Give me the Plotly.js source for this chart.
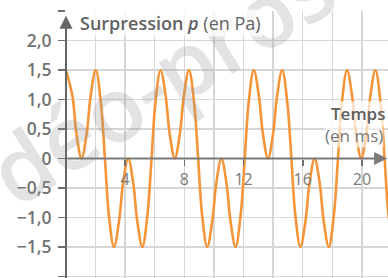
<!DOCTYPE html>
<html>
<head>
<meta charset="utf-8">
<script src="https://cdn.plot.ly/plotly-3.0.1.min.js"></script>
<style>html,body{margin:0;padding:0;background:#fff;}#chart{width:388px;height:278px;}</style>
</head>
<body>
<div id="chart"></div>
<script>
// Time (ms) and overpressure p (Pa)
var timeMs = [0, 0.44, 0.70, 1.05, 1.40, 1.66, 2.01, 2.36, 2.63, 2.89, 3.24, 3.59, 3.85, 4.20, 4.55, 4.81, 5.16, 5.51, 5.78, 6.04,
  6.39, 6.74, 7.00, 7.35, 7.70, 7.96, 8.31, 8.66, 8.93, 9.19, 9.54, 9.89, 10.15, 10.50, 10.85, 11.11, 11.46, 11.81, 12.08, 12.34,
  12.69, 13.04, 13.30, 13.65, 14.00, 14.26, 14.61, 14.96, 15.23, 15.49, 15.84, 16.19, 16.45, 16.80, 17.15, 17.41, 17.76, 18.11, 18.38, 18.64,
  18.99, 19.34, 19.60, 19.95, 20.30, 20.56, 20.91, 21.26, 21.53, 21.79, 22.14];
var pressurePa = [1.50, 1.05, 0.43, 0, 0.43, 1.05, 1.50, 0.94, 0, -0.94, -1.50, -1.05, -0.43, 0, -0.43, -1.05, -1.50, -0.94, 0, 0.94,
  1.50, 1.05, 0.43, 0, 0.43, 1.05, 1.50, 0.94, 0, -0.94, -1.50, -1.05, -0.43, 0, -0.43, -1.05, -1.50, -0.94, 0, 0.94,
  1.50, 1.05, 0.43, 0, 0.43, 1.05, 1.50, 0.94, 0, -0.94, -1.50, -1.05, -0.43, 0, -0.43, -1.05, -1.50, -0.94, 0, 0.94,
  1.50, 1.05, 0.43, 0, 0.43, 1.05, 1.50, 0.94, 0, -0.94, -1.50];

var xTickVals = [4, 8, 12, 16, 20];
var xTickText = ['4', '8', '12', '16', '20'];
var yTickVals = [-2, -1.5, -1, -0.5, 0, 0.5, 1, 1.5, 2, 2.5];
var yTickText = ['', '\u22121,5', '\u22121,0', '\u22120,5', '0', '0,5', '1,0', '1,5', '2,0', ''];

var FONT = 'Open Sans, Noto Sans, sans-serif';
var GRID = '#d6d6d6';
var AXIS = '#6e6e6e';
var yMin = -2.025, yMax = 2.5;

var trace = {
  x: timeMs, y: pressurePa, type: 'scatter', mode: 'lines',
  line: {color: '#f39538', width: 2.6, shape: 'spline', smoothing: 1},
  hoverinfo: 'skip'
};

var layout = {
  width: 388, height: 278,
  margin: {l: 66, r: 0, t: 11, b: 0, pad: 0},
  paper_bgcolor: '#ffffff', plot_bgcolor: '#ffffff',
  showlegend: false,
  xaxis: {
    range: [0, 21.76], anchor: 'free', position: (0 - yMin) / (yMax - yMin),
    tickmode: 'array', tickvals: xTickVals, ticktext: xTickText,
    showgrid: true, gridcolor: GRID, gridwidth: 1.4,
    minor: {tickmode: 'linear', tick0: 0, dtick: 2, showgrid: true, gridcolor: GRID, gridwidth: 1.4, ticks: ''},
    showline: false, zeroline: false,
    ticks: 'outside', ticklen: 6, tickwidth: 1.5, tickcolor: AXIS,
    tickfont: {family: FONT, size: 16, color: '#7a7a7a'},
    fixedrange: true
  },
  yaxis: {
    range: [yMin, yMax],
    tickmode: 'array', tickvals: yTickVals, ticktext: yTickText,
    showgrid: true, gridcolor: GRID, gridwidth: 1.4,
    showline: false, zeroline: false,
    ticks: 'outside', ticklen: 7, tickwidth: 1.5, tickcolor: AXIS,
    ticklabelstandoff: 3,
    tickfont: {family: FONT, size: 17.5, color: '#727272', weight: 600},
    fixedrange: true
  },
  annotations: [
    // watermark
    {xref: 'paper', yref: 'paper', x: (160 - 66) / 322, y: (278 - 78) / 267, xanchor: 'center', yanchor: 'middle',
     text: 'déo-pros', textangle: -32, showarrow: false,
     font: {family: FONT, size: 90, color: 'rgba(150,150,150,0.27)', weight: 600}},
    // x axis line with arrow
    {x: 21.7, y: 0, ax: 0, ay: 0, xref: 'x', yref: 'y', axref: 'x', ayref: 'y', text: '',
     showarrow: true, arrowhead: 2, arrowsize: 1.3, arrowwidth: 2, arrowcolor: '#7a7a7a'},
    // y axis line with arrow
    {x: 0, y: 2.42, ax: 0, ay: yMin - 0.1, xref: 'x', yref: 'y', axref: 'x', ayref: 'y', text: '',
     showarrow: true, arrowhead: 2, arrowsize: 1.3, arrowwidth: 2, arrowcolor: '#666666'},
    // axis titles
    {xref: 'paper', yref: 'paper', x: 12 / 322, y: (278 - 23) / 267, xanchor: 'left', yanchor: 'middle',
     text: 'Surpression <i>p</i> <span style="font-weight:400">(en Pa)</span>',
     showarrow: false, font: {family: FONT, size: 18, color: '#626262', weight: 600}, bgcolor: 'rgba(255,255,255,0.75)', borderpad: 1},
    {xref: 'paper', yref: 'paper', x: (330 - 66) / 322, y: (278 - 113) / 267, xanchor: 'left', yanchor: 'middle',
     text: 'Temps', showarrow: false, font: {family: FONT, size: 17, color: '#5e5e5e', weight: 600},
     bgcolor: 'rgba(255,255,255,0.7)', borderpad: 0},
    {xref: 'paper', yref: 'paper', x: (324 - 66) / 322, y: (278 - 135) / 267, xanchor: 'left', yanchor: 'middle',
     text: '(en ms)', showarrow: false, font: {family: FONT, size: 17, color: '#787878'},
     bgcolor: 'rgba(255,255,255,0.6)', borderpad: 0}
  ]
};

Plotly.newPlot('chart', [trace], layout, {displayModeBar: false, staticPlot: true});
</script>
</body>
</html>
